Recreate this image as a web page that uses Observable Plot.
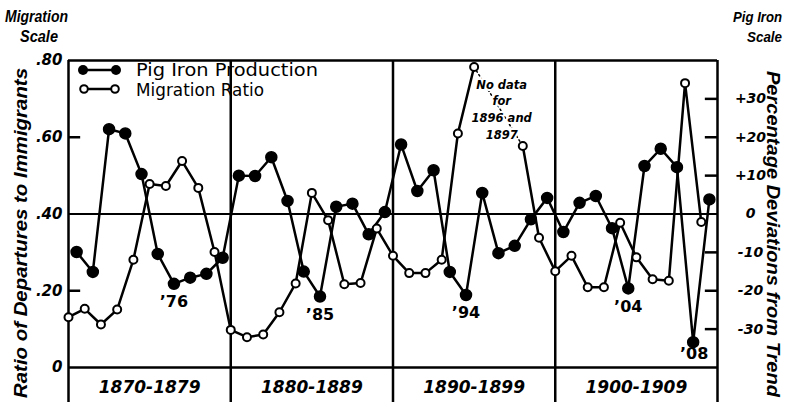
<!DOCTYPE html>
<html>
<head>
<meta charset="utf-8">
<script src="https://cdn.jsdelivr.net/npm/d3@7"></script>
<script src="https://cdn.jsdelivr.net/npm/@observablehq/plot@0.6"></script>
<style>
  html, body { margin: 0; padding: 0; background: #fff; }
  #chart svg { display: block; }
</style>
</head>
<body>
<div id="chart"></div>
<script>
// ---- Data ----
const years = [1870,1871,1872,1873,1874,1875,1876,1877,1878,1879,
               1880,1881,1882,1883,1884,1885,1886,1887,1888,1889,
               1890,1891,1892,1893,1894,1895,1896,1897,1898,1899,
               1900,1901,1902,1903,1904,1905,1906,1907,1908,1909];
// Ratio of departures to immigrants (left scale); no data 1896, 1897
const migrationRatio = [0.131,0.153,0.112,0.151,0.281,0.478,0.473,0.538,0.468,0.301,
                        0.098,0.079,0.086,0.144,0.219,0.455,0.384,0.217,0.220,0.362,
                        0.291,0.246,0.246,0.281,0.610,0.783,null,null,0.577,0.338,
                        0.251,0.291,0.209,0.209,0.377,0.287,0.230,0.226,0.741,0.379];
// Pig iron production, percentage deviation from trend (right scale)
const pigIron = [-9.9,-15.1,22.1,21.0,10.4,-10.4,-18.2,-16.6,-15.6,-11.4,
                 10.0,9.9,14.8,3.4,-15.0,-21.5,1.9,2.7,-5.3,0.5,
                 18.1,6.0,11.4,-15.1,-21.1,5.5,-10.2,-8.3,-1.4,4.2,
                 -4.7,2.9,4.7,-3.7,-19.4,12.5,17.0,12.2,-33.4,3.8];
const decadeBounds = [1870,1880,1890,1900,1910];
const decadeLabels = ["1870-1879","1880-1889","1890-1899","1900-1909"];
const leftTicks = [0.8,0.6,0.4,0.2,0];
const leftTickLabels = [".80",".60",".40",".20","0"];
const rightTicks = [30,20,10,0,-10,-20,-30];
const rightTickLabels = ["+30","+20","+10","0","-10","-20","-30"];
const markedYears = [1876,1885,1894,1904];
const markedYearsLow = [1908];
const gapNote = "No data\nfor\n1896 and\n1897";

// ---- Derived tables ----
const pigZero = 0.4;     // 0 % on pig-iron scale sits at .40 on migration scale
const pigPerUnit = 100;  // 10 % == .10 ratio
const migRows = years.map((year, i) => ({year, value: migrationRatio[i]}));
const pigRows = years.map((year, i) => ({year: year + 0.5, pct: pigIron[i], value: pigZero + pigIron[i] / pigPerUnit}));
const gapRows = migRows.filter(d => d.year === 1895 || d.year === 1898);
const gapNoteRow = [{year: (1896 + 1897) / 2 + 0.2, value: d3.mean(gapRows, d => d.value) - 0.005, text: gapNote}];
const labelRows = pigRows.filter(d => markedYears.includes(Math.floor(d.year)))
  .map(d => ({...d, text: "\u2019" + String(Math.floor(d.year)).slice(2)}));
const labelRowsLow = pigRows.filter(d => markedYearsLow.includes(Math.floor(d.year)))
  .map(d => ({...d, text: "\u2019" + String(Math.floor(d.year)).slice(2)}));
const decadeRows = decadeLabels.map((t, i) => ({x: (decadeBounds[i] + decadeBounds[i+1]) / 2, text: t}));
const leftTickRows = leftTicks.map((v, i) => ({v, text: leftTickLabels[i]}));
const rightTickRows = rightTicks.map((p, i) => ({v: pigZero + p / pigPerUnit, text: rightTickLabels[i]}));

const FONT = "DejaVu Sans";
const NARROW = "Liberation Sans";
const hand = {fontFamily: FONT, fontStyle: "italic", fontWeight: "bold"};

const chart = Plot.plot({
  width: 792,
  height: 402,
  marginLeft: 68,
  marginRight: 75,
  marginTop: 60,
  marginBottom: 35,
  style: {fontFamily: FONT, background: "#fff", color: "#000"},
  x: {domain: [1870, 1910], axis: null},
  y: {domain: [0, 0.8], axis: null},
  marks: [
    // frame lines
    Plot.ruleY([0.8, 0], {stroke: "#000", strokeWidth: 2.5}),
    Plot.ruleY([0.4], {stroke: "#000", strokeWidth: 2}),
    Plot.ruleX(decadeBounds, {y1: 0.8, y2: -0.1, stroke: "#000", strokeWidth: 2.5}),
    // inside tick marks
    Plot.ruleY(leftTicks.filter(v => v !== 0.4 && v !== 0 && v !== 0.8), {x1: 1870, x2: 1870.75, stroke: "#000", strokeWidth: 2.5}),
    Plot.ruleY(rightTickRows.filter(d => d.text !== "0"), {y: "v", x1: 1909.25, x2: 1910, stroke: "#000", strokeWidth: 2.5}),
    // tick labels
    Plot.text(leftTickRows, {x: 1870, y: "v", text: "text", textAnchor: "end", dx: -6, fontSize: 15, ...hand}),
    Plot.text(rightTickRows, {x: 1910, y: "v", text: "text", textAnchor: "middle", dx: 33, fontSize: 14, ...hand}),
    // decade labels
    Plot.text(decadeRows, {x: "x", y: 0, text: "text", dy: 20, fontSize: 17, ...hand}),
    // gap connector and note
    Plot.line(gapRows, {x: "year", y: "value", stroke: "#000", strokeWidth: 1.5, strokeDasharray: "1.5,3"}),
    Plot.text(gapNoteRow, {x: "year", y: "value", text: "text", fontSize: 11.5, lineHeight: 1.45, stroke: "#fff", strokeWidth: 4, fill: "#000", ...hand}),
    // series lines
    Plot.line(pigRows, {x: "year", y: "value", stroke: "#000", strokeWidth: 2.5}),
    Plot.line(migRows, {x: "year", y: "value", stroke: "#000", strokeWidth: 2.5}),
    // points
    Plot.dot(pigRows, {x: "year", y: "value", r: 5.5, fill: "#000", stroke: "#000"}),
    Plot.dot(migRows.filter(d => d.value != null), {x: "year", y: "value", r: 4, fill: "#fff", stroke: "#000", strokeWidth: 2}),
    // year annotations
    Plot.text(labelRows, {x: "year", y: "value", text: "text", dy: 18, fontSize: 16, fontWeight: "bold", fontFamily: FONT}),
    Plot.text(labelRowsLow, {x: "year", y: "value", text: "text", dy: 12, dx: 1, fontSize: 16, fontWeight: "bold", fontFamily: FONT})
  ]
});

document.getElementById("chart").appendChild(chart);

// ---- non-data text: legend, scale headings, axis titles ----
const svg = d3.select(chart);
const leg = svg.append("g").attr("text-anchor", "start");
// pig iron legend row
leg.append("line").attr("x1", 83).attr("x2", 116).attr("y1", 70).attr("y2", 70).attr("stroke", "#000").attr("stroke-width", 2.5);
leg.append("circle").attr("cx", 83).attr("cy", 70).attr("r", 5).attr("fill", "#000");
leg.append("circle").attr("cx", 116).attr("cy", 70).attr("r", 5).attr("fill", "#000");
leg.append("text").attr("x", 136).attr("y", 76).attr("text-anchor", "start").text("Pig Iron Production")
  .attr("font-family", FONT).attr("font-size", 17).attr("fill", "#000")
  .attr("textLength", 182).attr("lengthAdjust", "spacingAndGlyphs");
// migration legend row
leg.append("line").attr("x1", 84).attr("x2", 115).attr("y1", 89).attr("y2", 89).attr("stroke", "#000").attr("stroke-width", 2.5);
leg.append("circle").attr("cx", 84).attr("cy", 89).attr("r", 3.8).attr("fill", "#fff").attr("stroke", "#000").attr("stroke-width", 2);
leg.append("circle").attr("cx", 115).attr("cy", 89).attr("r", 3.8).attr("fill", "#fff").attr("stroke", "#000").attr("stroke-width", 2);
leg.append("text").attr("x", 136).attr("y", 96).attr("text-anchor", "start").text("Migration Ratio")
  .attr("font-family", FONT).attr("font-size", 17).attr("fill", "#000")
  .attr("textLength", 128).attr("lengthAdjust", "spacingAndGlyphs");

function handText(x, y, txt, size, anchor, rotate, len, family) {
  const t = svg.append("text")
    .attr("font-family", family || NARROW).attr("font-style", "italic").attr("font-weight", "bold")
    .attr("font-size", size).attr("text-anchor", anchor || "start").attr("fill", "#000")
    .text(txt);
  if (len) t.attr("textLength", len).attr("lengthAdjust", "spacingAndGlyphs");
  if (rotate) t.attr("transform", `translate(${x},${y}) rotate(${rotate})`);
  else t.attr("x", x).attr("y", y);
  return t;
}
handText(5, 22, "Migration", 16, "start", 0, 63);
handText(20, 42, "Scale", 16, "start", 0, 38);
handText(733, 22, "Pig Iron", 15, "start", 0, 49);
handText(747, 42, "Scale", 15, "start", 0, 35);
handText(27, 233, "Ratio of Departures to Immigrants", 19, "middle", -90, 330);
handText(767, 234, "Percentage Deviations from Trend", 19, "middle", 90, 326);
</script>
</body>
</html>
